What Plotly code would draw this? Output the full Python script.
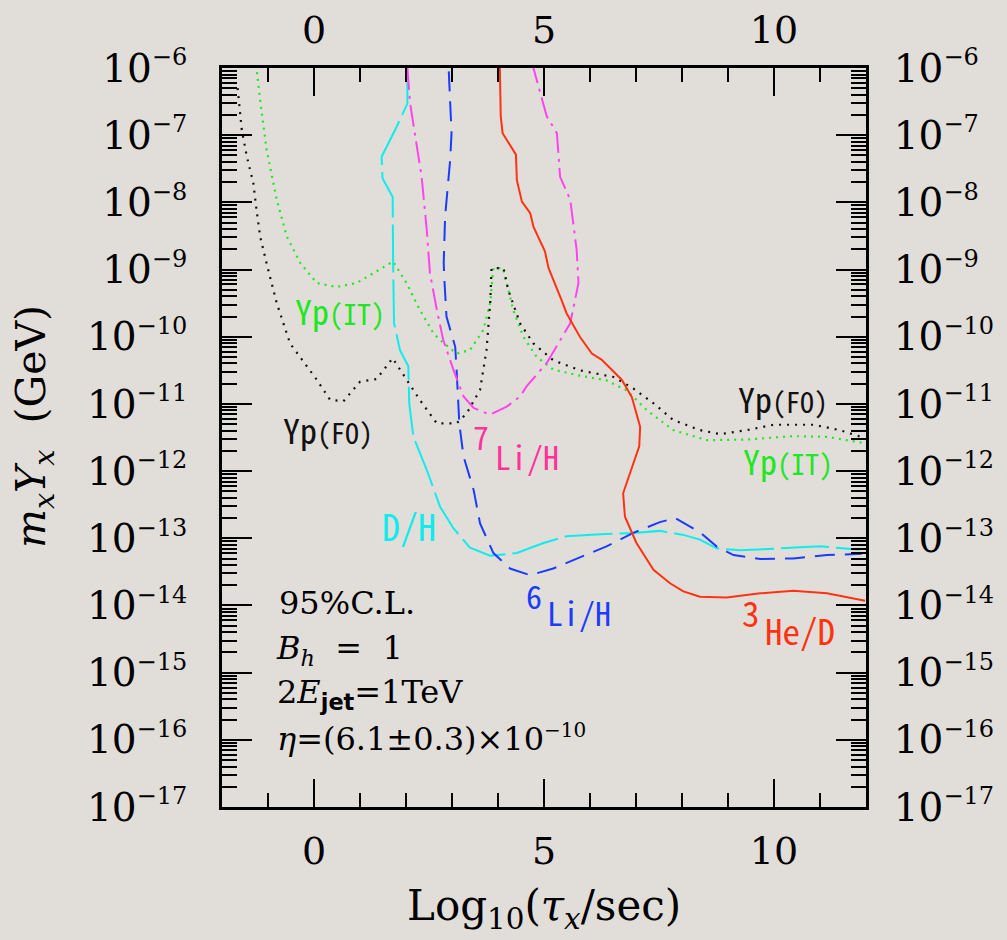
import plotly.graph_objects as go

# ---------------- data ----------------
x_tick_vals = [0, 5, 10]
x_tick_text = ["0", "5", "10"]
y_tick_exponents = [-6, -7, -8, -9, -10, -11, -12, -13, -14, -15, -16, -17]

# Yp (IT)  green dotted
ypit_x = [-1.24, -1.17, -1.03, -0.81, -0.59, -0.30, 0.06, 0.49, 0.93, 1.36, 1.72, 2.01, 2.30, 2.59,
          2.74, 3.10, 3.39, 3.68, 3.83, 3.90, 4.11, 4.19, 4.33, 4.55, 4.84, 5.20, 5.78, 6.36, 6.80,
          7.23, 7.81, 8.54, 9.41, 10.42, 11.15, 11.94]
ypit_log = [-6.06, -6.48, -7.22, -7.96, -8.51, -8.90, -9.20, -9.26, -9.20, -9.03, -8.88, -9.20, -9.60, -9.94,
            -10.05, -10.25, -10.20, -9.90, -9.50, -8.98, -8.98, -9.20, -9.60, -10.00, -10.30, -10.49, -10.58,
            -10.65, -10.80, -11.09, -11.39, -11.54, -11.53, -11.48, -11.49, -11.58]

# Yp (FO)  black dotted
ypfo_x = [-1.66, -1.61, -1.57, -1.46, -1.32, -1.25, -1.17, -1.03, -0.81, -0.52, -0.30, 0.06, 0.35, 0.64,
          1.00, 1.36, 1.71, 2.01, 2.30, 2.67, 3.10, 3.32, 3.61, 3.75, 3.83, 3.86, 4.12, 4.22, 4.48, 4.77,
          5.20, 5.78, 6.51, 6.94, 7.38, 7.81, 8.39, 8.83, 9.41, 9.99, 10.86, 11.43, 11.94]
ypfo_log = [-6.30, -6.63, -6.92, -7.32, -7.71, -8.11, -8.51, -8.91, -9.50, -10.10, -10.30, -10.64, -10.94,
            -10.96, -10.67, -10.63, -10.32, -10.64, -10.94, -11.29, -11.29, -11.14, -10.79, -10.20, -9.50,
            -8.98, -8.98, -9.30, -9.80, -10.10, -10.35, -10.50, -10.60, -10.77, -10.99, -11.24, -11.39,
            -11.45, -11.39, -11.31, -11.31, -11.39, -11.50]

# D/H  cyan long dashes
dh_x = [2.03, 2.03, 1.80, 1.47, 1.49, 1.71, 1.72, 1.74, 1.87, 2.05, 2.07, 2.16, 2.45, 2.74, 3.03, 3.39,
        3.83, 4.41, 4.99, 5.49, 6.22, 6.94, 7.52, 8.03, 8.39, 8.75, 9.26, 10.06, 11.00, 11.87]
dh_log = [-6.00, -6.53, -6.87, -7.32, -7.64, -7.92, -8.91, -9.80, -10.20, -10.44, -10.99, -11.49, -11.98,
          -12.53, -12.85, -13.14, -13.26, -13.22, -13.07, -12.97, -12.94, -12.92, -12.89, -12.95, -13.02,
          -13.15, -13.18, -13.15, -13.12, -13.17]

# 6Li/H  blue dashed
li6_x = [2.93, 2.99, 2.96, 2.88, 2.85, 2.82, 2.83, 2.88, 3.07, 3.10, 3.14, 3.16, 3.25, 3.47, 3.61, 3.90,
         4.26, 4.70, 5.20, 5.71, 6.36, 6.94, 7.52, 7.85, 8.39, 8.75, 9.12, 9.70, 10.42, 11.15, 11.91]
li6_log = [-6.05, -6.97, -7.37, -7.96, -8.21, -8.90, -9.10, -9.70, -10.15, -10.50, -11.00, -11.30, -11.78,
           -12.28, -12.78, -13.22, -13.45, -13.55, -13.45, -13.30, -13.12, -12.92, -12.76, -12.70, -12.91,
           -13.12, -13.25, -13.31, -13.30, -13.25, -13.23]

# 7Li/H  magenta dash-dot
li7_x = [2.03, 2.09, 2.34, 2.45, 2.52, 2.67, 2.81, 3.03, 3.25, 3.47, 3.83, 4.19, 4.48, 4.62, 5.06, 5.57,
         5.75, 5.71, 5.57, 5.35, 5.28, 5.06, 4.77]
li7_log = [-6.00, -6.53, -7.62, -8.40, -9.05, -9.60, -10.05, -10.49, -10.89, -11.06, -11.16, -11.04, -10.89,
           -10.74, -10.39, -9.80, -9.20, -8.71, -7.96, -7.62, -6.97, -6.72, -6.00]

# 3He/D  red solid
he3_x = [4.04, 4.06, 4.10, 4.39, 4.41, 4.52, 4.70, 4.77, 5.02, 5.10, 5.38, 5.49, 5.78, 6.04, 6.25, 6.69,
         6.91, 7.09, 7.07, 6.87, 6.72, 6.76, 7.01, 7.38, 7.74, 8.03, 8.39, 8.97, 9.70, 10.42, 11.15, 11.98]
he3_log = [-6.00, -6.72, -6.97, -7.29, -7.67, -7.99, -8.16, -8.36, -8.73, -8.98, -9.45, -9.65, -10.00,
           -10.25, -10.34, -10.64, -10.90, -11.34, -11.63, -12.03, -12.33, -12.68, -13.07, -13.47, -13.67,
           -13.79, -13.87, -13.88, -13.82, -13.78, -13.82, -13.93]

# ---------------- figure ----------------
W, H = 1007, 940
L, R, T, B = 222, 866, 68, 807      # plot-area edges in pixels
BG = "#e1ded9"
SERIF = "DejaVu Serif"
GOTHIC = "Noto Sans Mono CJK JP, Liberation Sans Narrow, Noto Sans CJK JP, sans-serif"


def pxx(p):
    return (p - L) / (R - L)


def pxy(p):
    return (B - p) / (B - T)


def to_val(logs):
    return [10 ** v for v in logs]


fig = go.Figure()

curves = [
    (ypit_x, ypit_log, "#22e622", "2px,5px", 2.2),
    (ypfo_x, ypfo_log, "#111111", "2px,6px", 2.2),
    (dh_x, dh_log, "#10ecec", "48px,7px", 2),
    (li6_x, li6_log, "#1a3cff", "20px,10px", 2),
    (li7_x, li7_log, "#ff44ee", "22px,6px,3px,6px", 2),
    (he3_x, he3_log, "#ff3311", "solid", 2),
]
for xs, ls, col, dash, w in curves:
    fig.add_trace(go.Scatter(x=xs, y=to_val(ls), mode="lines",
                             line=dict(color=col, width=w, dash=dash),
                             showlegend=False, hoverinfo="skip"))

# invisible trace to carry the top / right axes
fig.add_trace(go.Scatter(x=[None], y=[None], xaxis="x2", yaxis="y2",
                         showlegend=False, hoverinfo="skip"))

y_vals = [10.0 ** e for e in y_tick_exponents]
y_text = ["10<sup><span style='font-size:24px'>\u2212%d</span></sup>" % (-e) for e in y_tick_exponents]
minor_y = [k * 10.0 ** e for e in range(-17, -6) for k in range(2, 10)]

xax_common = dict(range=[-2, 12], tickmode="array", tickvals=x_tick_vals, ticktext=x_tick_text,
                  ticks="inside", ticklen=28, tickwidth=2, tickcolor="black",
                  minor=dict(tickmode="linear", tick0=0, dtick=1, ticks="inside", ticklen=14,
                             tickwidth=2, tickcolor="black", showgrid=False),
                  showline=True, linewidth=3, linecolor="black", showgrid=False, zeroline=False,
                  automargin=False,
                  tickfont=dict(family=SERIF, size=38, color="black"))
yax_common = dict(type="log", range=[-17, -6], tickmode="array", tickvals=y_vals, ticktext=y_text,
                  ticks="inside", ticklen=30, tickwidth=2, tickcolor="black",
                  minor=dict(tickmode="array", tickvals=minor_y, ticks="inside", ticklen=15,
                             tickwidth=1.5, tickcolor="black", showgrid=False),
                  showline=True, linewidth=3, linecolor="black", showgrid=False, zeroline=False,
                  automargin=False,
                  tickfont=dict(family=SERIF, size=39, color="black"))

fig.update_layout(
    width=W, height=H,
    margin=dict(l=L, r=W - R, t=T, b=H - B, pad=0, autoexpand=False),
    paper_bgcolor=BG, plot_bgcolor=BG,
    xaxis=dict(**xax_common, side="bottom", ticklabelstandoff=8),
    xaxis2=dict(**xax_common, side="top", overlaying="x", anchor="y", ticklabelstandoff=7),
    yaxis=dict(**yax_common, side="left", ticklabelstandoff=24),
    yaxis2=dict(**yax_common, side="right", overlaying="y", anchor="x", ticklabelstandoff=17),
)

ann = []


def add_text(text, xp, yp, size, color="black", family=SERIF, xanchor="center", yanchor="middle", angle=0):
    ann.append(dict(text=text, x=pxx(xp), y=pxy(yp), xref="paper", yref="paper",
                    xanchor=xanchor, yanchor=yanchor, showarrow=False, textangle=angle,
                    font=dict(family=family, size=size, color=color)))


# axis titles
add_text("Log<sub>10</sub>(<i>\u03c4</i><sub><i>x</i></sub>/sec)", 544, 908, 42)
add_text("<i>m</i><sub><i>x</i></sub><i>Y</i><sub><i>x</i></sub>\u00a0\u00a0(GeV)", 34, 427, 41, angle=-90)

# curve labels
yp_it = "Yp<span style='font-size:28px'>(IT)</span>"
yp_fo = "Yp<span style='font-size:28px'>(FO)</span>"
add_text(yp_it, 340, 310, 34, "#22e622", GOTHIC)
add_text(yp_fo, 328, 429, 34, "#111111", GOTHIC)
add_text(yp_fo, 783, 399, 34, "#111111", GOTHIC)
add_text(yp_it, 788, 460, 34, "#22e622", GOTHIC)
add_text("D/H", 409, 525, 36, "#10ecec", GOTHIC)
add_text("7", 491, 436, 32, "#ff3399", GOTHIC, xanchor="right")
add_text("Li/H", 493, 456, 32, "#ff3399", GOTHIC, xanchor="left")
add_text("6", 544, 595, 32, "#1a3cff", GOTHIC, xanchor="right")
add_text("Li/H", 545, 612, 32, "#1a3cff", GOTHIC, xanchor="left")
add_text("3", 762, 611, 35, "#ff3311", GOTHIC, xanchor="right")
add_text("He/D", 763, 629, 35, "#ff3311", GOTHIC, xanchor="left")

# parameter block
add_text("95%C.L.", 277, 603, 32, xanchor="left")
add_text("<i>B</i><sub><i>h</i></sub>\u00a0\u00a0=\u00a0\u00a01", 274, 650, 32, xanchor="left")
add_text("2<i>E</i><sub><span style='font-family:DejaVu Sans;font-weight:bold'>jet</span></sub>=1TeV",
         275, 694, 32, xanchor="left")
add_text("<i>\u03b7</i>=(6.1\u00b10.3)\u00d710<sup><span style='font-size:20px'>\u221210</span></sup>",
         275, 738, 32, xanchor="left")

fig.update_layout(annotations=ann)

fig.write_html("out.html")
